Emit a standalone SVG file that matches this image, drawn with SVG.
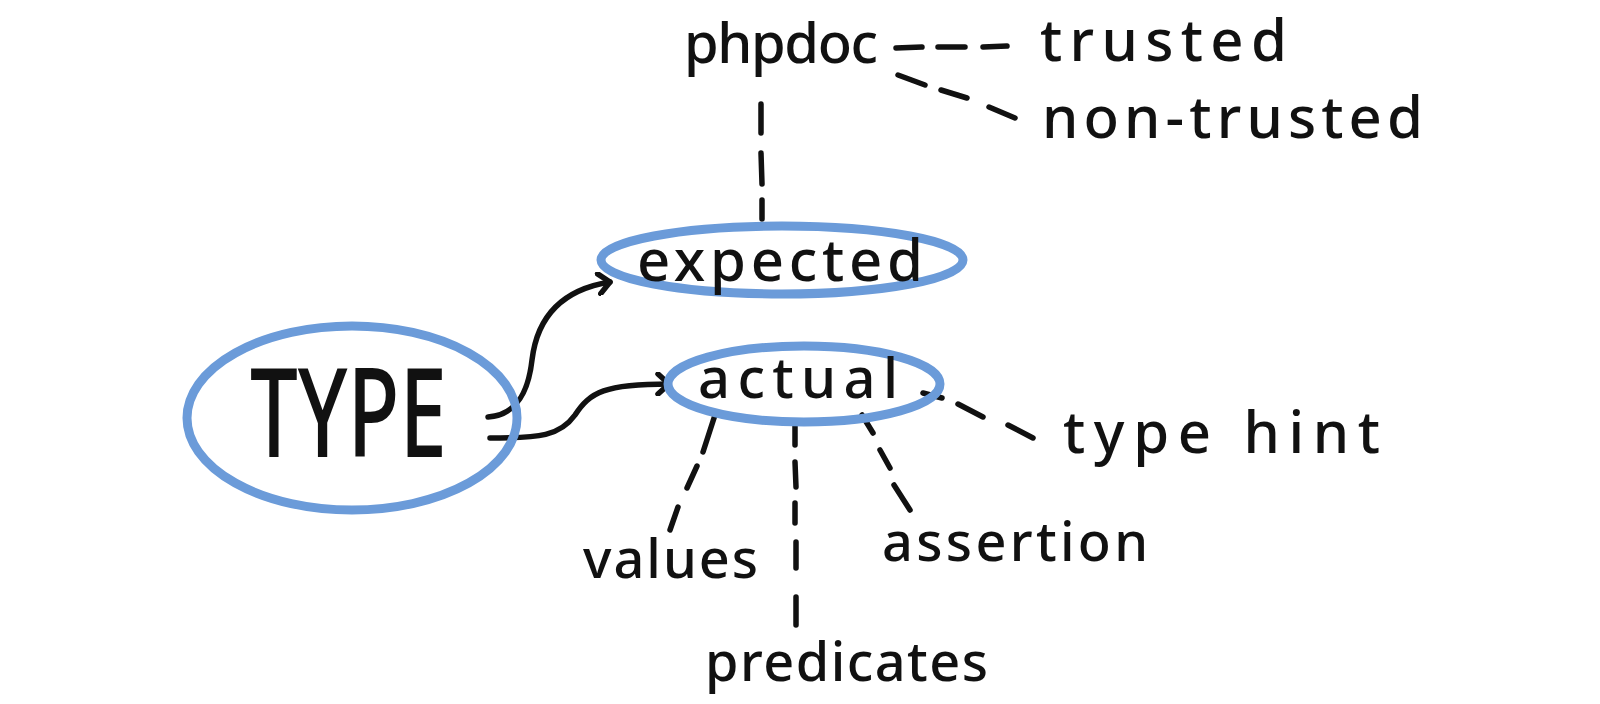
<svg xmlns="http://www.w3.org/2000/svg" width="1600" height="704" viewBox="0 0 1600 704">
<style>
.bg{fill:#ffffff}
.oval{fill:none;stroke:#6b9bd9;stroke-width:9}
.lbl{font-family:"Noto Sans","DejaVu Sans",sans-serif;fill:#111111;font-weight:500}
.arrow{fill:none;stroke:#111111;stroke-width:5.5;stroke-linecap:round;stroke-linejoin:round}
.dash{fill:none;stroke:#111111;stroke-width:5.5;stroke-linecap:round}
</style>
<defs>
<marker id="chev" viewBox="-14 -12 18 24" markerWidth="18" markerHeight="24" refX="0" refY="0" orient="auto" markerUnits="userSpaceOnUse">
<path d="M-11,-10 L0,0 L-11,10" fill="none" stroke="#111111" stroke-width="5.5" stroke-linecap="round" stroke-linejoin="round"/>
</marker>
</defs>
<rect class="bg" x="0" y="0" width="1600" height="704"/>

<g id="connectors">
<path class="arrow" d="M488,417 C515,415 528,395 532,360 C537,318 560,290 610,282" marker-end="url(#chev)"/>
<path class="arrow" d="M490,438 C540,438 560,436 575,415 C590,392 605,384 669,384" marker-end="url(#chev)"/>
<path class="dash" d="M761,104 L761,133 M761,153 L762,184 M762,200 L762,219"/>
<path class="dash" d="M896,48 L922,47 M938,47 L965,47 M983,47 L1007,46"/>
<path class="dash" d="M898,75 L925,85 M941,90 L967,98 M989,107 L1015,118"/>
<path class="dash" d="M923,393 L942,398 M958,404 L983,417 M1008,425 L1033,438"/>
<path class="dash" d="M715,415 L703,452 M697,466 L687,488 M678,507 L670,530"/>
<path class="dash" d="M795,422 L795,445 M795,462 L796,487 M795,503 L795,523 M796,542 L796,568 M796,597 L796,625"/>
<path class="dash" d="M862,415 L873,433 M880,450 L890,468 M894,485 L910,510"/>
</g>

<g id="node-type">
<ellipse class="oval" cx="352" cy="418" rx="165" ry="92"/>
<text class="lbl" x="250" y="457" font-size="124" font-weight="400" textLength="197" lengthAdjust="spacingAndGlyphs">TYPE</text>
</g>

<g id="node-expected">
<ellipse class="oval" cx="782" cy="260" rx="181" ry="34"/>
<text class="lbl" x="637" y="281" font-size="58" textLength="286" lengthAdjust="spacing">expected</text>
</g>

<g id="node-actual">
<ellipse class="oval" cx="804" cy="384" rx="136" ry="38"/>
<text class="lbl" x="698" y="398" font-size="56" textLength="200" lengthAdjust="spacing">actual</text>
</g>

<g id="node-phpdoc">
<text class="lbl" x="684" y="63" font-size="56" textLength="194" lengthAdjust="spacing">phpdoc</text>
</g>

<g id="node-trusted">
<text class="lbl" x="1040" y="61" font-size="58" textLength="247" lengthAdjust="spacing">trusted</text>
</g>

<g id="node-nontrusted">
<text class="lbl" x="1042" y="138" font-size="58" textLength="381" lengthAdjust="spacing">non-trusted</text>
</g>

<g id="node-typehint">
<text class="lbl" x="1063" y="453" font-size="58" textLength="317" lengthAdjust="spacing">type hint</text>
</g>

<g id="node-values">
<text class="lbl" x="583" y="578" font-size="54" textLength="175" lengthAdjust="spacing">values</text>
</g>

<g id="node-assertion">
<text class="lbl" x="882" y="561" font-size="54" textLength="266" lengthAdjust="spacing">assertion</text>
</g>

<g id="node-predicates">
<text class="lbl" x="705" y="681" font-size="54" textLength="283" lengthAdjust="spacing">predicates</text>
</g>
</svg>
